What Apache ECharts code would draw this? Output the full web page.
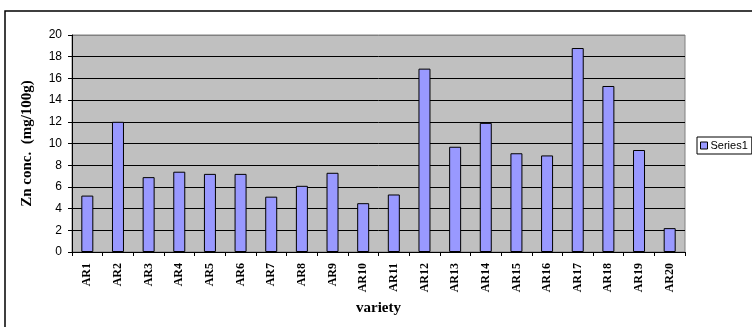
<!DOCTYPE html>
<html>
<head>
<meta charset="utf-8">
<script src="https://cdn.jsdelivr.net/npm/echarts@6/dist/echarts.min.js"></script>
<style>
  html, body { margin: 0; padding: 0; background: #fff; }
  #chart { width: 752px; height: 327px; }
</style>
</head>
<body>
<div id="chart"></div>
<script>
// Zn concentration per rice variety
const varieties = ['AR1','AR2','AR3','AR4','AR5','AR6','AR7','AR8','AR9','AR10',
                   'AR11','AR12','AR13','AR14','AR15','AR16','AR17','AR18','AR19','AR20'];
const series1 = [5.2, 12.0, 6.9, 7.4, 7.2, 7.2, 5.1, 6.1, 7.3, 4.5,
                 5.3, 16.9, 9.7, 11.9, 9.1, 8.9, 18.8, 15.3, 9.4, 2.2];
const yMin = 0, yMax = 20, yStep = 2;

const chart = echarts.init(document.getElementById('chart'), null, { renderer: 'canvas' });

const serif = '"Liberation Serif", "Times New Roman", serif';
const sans = '"Liberation Sans", Arial, sans-serif';

chart.setOption({
  animation: false,
  backgroundColor: '#ffffff',
  graphic: [{
    type: 'rect',
    shape: { x: 5, y: 11, width: 800, height: 400 },
    style: { fill: 'none', stroke: '#000', lineWidth: 1.5 },
    z: 0
  }],
  grid: {
    left: 72, right: 67, top: 35, bottom: 75,
    show: true,
    backgroundColor: '#C0C0C0',
    borderColor: '#808080',
    borderWidth: 1
  },
  legend: {
    data: ['Series1'],
    left: 697, top: 137,
    orient: 'vertical',
    icon: 'rect',
    itemWidth: 7, itemHeight: 7, itemGap: 4,
    padding: [3, 4, 3, 3],
    backgroundColor: '#fff',
    borderColor: '#000',
    borderWidth: 1,
    borderRadius: 0,
    itemStyle: { borderColor: '#000', borderWidth: 1 },
    textStyle: { fontFamily: sans, fontSize: 11, color: '#000', padding: [0, 0, 0, -2] }
  },
  xAxis: {
    type: 'category',
    data: varieties,
    name: 'variety',
    nameLocation: 'middle',
    nameGap: 49,
    nameTextStyle: { fontFamily: serif, fontWeight: 'bold', fontSize: 15, color: '#000' },
    axisLine: { lineStyle: { color: '#000', width: 1 } },
    axisTick: { show: true, length: 4, lineStyle: { color: '#000' } },
    axisLabel: {
      rotate: 90, interval: 0, margin: 11,
      fontFamily: serif, fontWeight: 'bold', fontSize: 12, color: '#000'
    },
    splitLine: { show: false }
  },
  yAxis: {
    type: 'value',
    min: yMin, max: yMax, interval: yStep,
    name: 'Zn conc.  (mg/100g)',
    nameLocation: 'middle',
    nameGap: 37,
    nameTextStyle: { fontFamily: serif, fontWeight: 'bold', fontSize: 15, color: '#000' },
    axisLine: { show: true, lineStyle: { color: '#000', width: 1 } },
    axisTick: { show: true, length: 4, lineStyle: { color: '#000' } },
    axisLabel: { margin: 10, fontFamily: sans, fontSize: 12, color: '#000' },
    splitLine: {
      show: true,
      lineStyle: {
        color: ['#000','#000','#000','#000','#000','#000','#000','#000','#000','#000','#808080'],
        width: 1
      }
    }
  },
  series: [{
    name: 'Series1',
    type: 'bar',
    data: series1,
    barWidth: 12,
    itemStyle: { color: '#9999FF', borderColor: '#000', borderWidth: 1 }
  }]
});
</script>
</body>
</html>
